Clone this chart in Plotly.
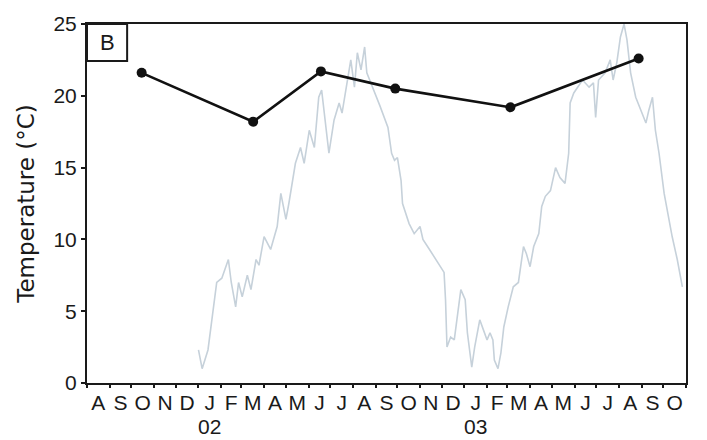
import pandas as pd
import plotly.graph_objects as go

# Daily water temperature record (°C)
temp_dates = [
    "2002-01-01", "2002-01-06", "2002-01-14", "2002-01-26", "2002-02-02", "2002-02-11",
    "2002-02-15", "2002-02-21", "2002-02-25", "2002-03-02", "2002-03-09", "2002-03-14",
    "2002-03-21", "2002-03-25", "2002-04-01", "2002-04-10", "2002-04-19", "2002-04-24",
    "2002-05-01", "2002-05-05", "2002-05-14", "2002-05-21", "2002-05-26", "2002-06-02",
    "2002-06-09", "2002-06-15", "2002-06-19", "2002-06-24", "2002-06-29", "2002-07-06",
    "2002-07-13", "2002-07-17", "2002-07-24", "2002-07-29", "2002-08-03", "2002-08-07",
    "2002-08-12", "2002-08-17", "2002-08-20", "2002-08-28", "2002-09-07", "2002-09-18",
    "2002-09-23", "2002-09-27", "2002-10-01", "2002-10-06", "2002-10-08", "2002-10-17",
    "2002-10-24", "2002-11-01", "2002-11-05", "2002-11-14", "2002-11-25", "2002-12-04",
    "2002-12-06", "2002-12-08", "2002-12-13", "2002-12-18", "2002-12-27", "2003-01-02",
    "2003-01-05", "2003-01-11", "2003-01-15", "2003-01-22", "2003-01-27", "2003-02-01",
    "2003-02-05", "2003-02-09", "2003-02-11", "2003-02-16", "2003-02-20", "2003-02-24",
    "2003-03-02", "2003-03-09", "2003-03-16", "2003-03-23", "2003-03-27", "2003-04-01",
    "2003-04-06", "2003-04-13", "2003-04-17", "2003-04-22", "2003-04-29", "2003-05-06",
    "2003-05-12", "2003-05-19", "2003-05-24", "2003-05-26", "2003-05-31", "2003-06-05",
    "2003-06-12", "2003-06-21", "2003-06-27", "2003-06-30", "2003-07-04", "2003-07-13",
    "2003-07-20", "2003-07-24", "2003-07-29", "2003-08-03", "2003-08-08", "2003-08-12",
    "2003-08-17", "2003-08-24", "2003-08-31", "2003-09-07", "2003-09-11", "2003-09-16",
    "2003-09-20", "2003-09-25", "2003-10-02", "2003-10-06", "2003-10-13", "2003-10-20",
    "2003-10-27",
]
temp_values = [
    2.3, 1.0, 2.3, 7.0, 7.3, 8.6,
    7.0, 5.3, 7.0, 6.0, 7.5, 6.5,
    8.6, 8.2, 10.2, 9.3, 10.9, 13.2,
    11.4, 12.5, 15.3, 16.4, 15.3, 17.6,
    16.4, 19.9, 20.4, 18.3, 16.0, 18.3,
    19.5, 18.8, 21.1, 22.5, 20.6, 23.0,
    21.8, 23.4, 21.6, 20.6, 19.3, 17.8,
    16.0, 15.5, 15.7, 14.1, 12.5, 11.1,
    10.4, 10.9, 10.0, 9.3, 8.4, 7.7,
    5.8, 2.5, 3.2, 3.0, 6.5, 5.8,
    3.5, 1.1, 2.5, 4.4, 3.7, 3.0,
    3.5, 3.0, 1.6, 1.0, 2.1, 3.9,
    5.3, 6.7, 7.0, 9.5, 9.0, 8.1,
    9.5, 10.4, 12.3, 13.0, 13.4, 15.0,
    14.3, 13.9, 16.0, 19.5, 20.2, 20.6,
    21.1, 20.6, 20.9, 18.5, 21.1, 21.6,
    22.5, 21.1, 22.3, 24.1, 25.0, 23.9,
    21.6, 19.9, 19.0, 18.1, 19.0, 19.9,
    17.6, 16.0, 13.2, 12.0, 10.2, 8.6,
    6.7,
]

# Sampling-date temperatures
sample_dates = ["2001-10-15", "2002-03-17", "2002-06-18", "2002-09-28", "2003-03-05", "2003-08-28"]
sample_values = [21.6, 18.2, 21.7, 20.5, 19.2, 22.6]

# Month axis
month_letters = ["A", "S", "O", "N", "D", "J", "F", "M", "A", "M", "J", "J", "A", "S",
                 "O", "N", "D", "J", "F", "M", "A", "M", "J", "J", "A", "S", "O"]
year_labels = {5: "02", 17: "03"}

month_starts = pd.date_range("2001-08-01", "2003-11-01", freq="MS")
month_mids = [s + (e - s) / 2 for s, e in zip(month_starts[:-1], month_starts[1:])]

font_family = "Liberation Sans, Arial, sans-serif"
ink = "#1a1a1a"

fig = go.Figure()
fig.add_trace(go.Scatter(
    x=pd.to_datetime(temp_dates), y=temp_values, mode="lines",
    line=dict(color="#c6d1da", width=1.6), showlegend=False, cliponaxis=True,
))
fig.add_trace(go.Scatter(
    x=pd.to_datetime(sample_dates), y=sample_values, mode="lines+markers",
    line=dict(color="#111111", width=2.6),
    marker=dict(color="#111111", size=10), showlegend=False,
))

fig.update_xaxes(
    type="date", range=[month_starts[0], month_starts[-1]],
    tickmode="array", tickvals=month_mids, ticktext=month_letters,
    ticks="", showgrid=False, zeroline=False, automargin=False,
    showline=True, linecolor=ink, linewidth=2, mirror=True,
    tickfont=dict(family=font_family, size=21, color=ink),
    minor=dict(tickmode="array", tickvals=list(month_starts), ticks="outside",
               ticklen=3, tickwidth=2, tickcolor=ink, showgrid=False),
)
fig.update_yaxes(
    range=[0, 25], tickmode="linear", tick0=0, dtick=5,
    ticks="outside", ticklen=4, tickwidth=1.5, tickcolor=ink,
    showgrid=False, zeroline=False, automargin=False,
    showline=True, linecolor=ink, linewidth=2, mirror=True,
    tickfont=dict(family=font_family, size=21, color=ink),
    title=dict(text="Temperature (°C)", standoff=12,
               font=dict(family="DejaVu Sans, sans-serif", size=23, color=ink)),
)

# Year labels under the January ticks
for idx, yr in year_labels.items():
    fig.add_annotation(xref="x", yref="paper", x=month_mids[idx], y=0,
                       xanchor="center", yanchor="middle", yshift=-43,
                       text=yr, showarrow=False,
                       font=dict(family=font_family, size=21, color=ink))

# Panel label box
fig.add_shape(type="rect", xref="paper", yref="paper",
              x0=0, x1=0.067, y0=0.897, y1=1.0,
              line=dict(color=ink, width=2), fillcolor="white", layer="below")
fig.add_annotation(xref="paper", yref="paper", x=0.0335, y=0.9485,
                   xanchor="center", yanchor="middle",
                   text="B", showarrow=False,
                   font=dict(family=font_family, size=22, color=ink))

fig.update_layout(
    width=707, height=440,
    margin=dict(l=87, r=21, t=24, b=57),
    plot_bgcolor="white", paper_bgcolor="white",
)

fig.write_html("out.html")
